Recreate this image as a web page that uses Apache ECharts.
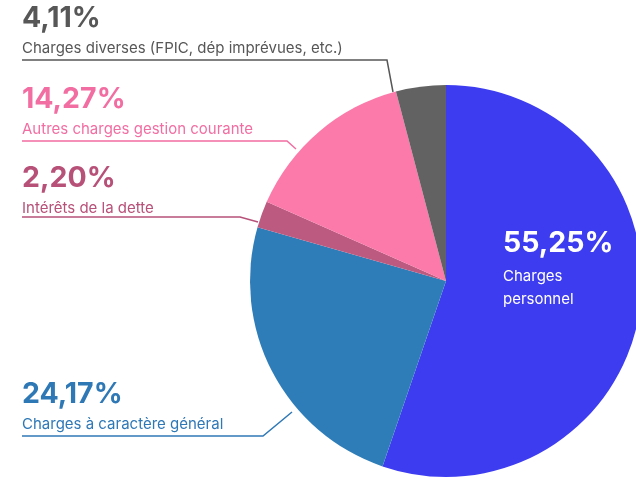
<!DOCTYPE html>
<html>
<head>
<meta charset="utf-8">
<script src="https://cdn.jsdelivr.net/npm/echarts@6/dist/echarts.min.js"></script>
<style>
  html, body { margin: 0; padding: 0; background: #fff; }
  #pieChart { width: 636px; height: 482px; }
</style>
</head>
<body>
<div id="pieChart"></div>
<script>
// répartition des dépenses de fonctionnement (%)
const names = [
  'Charges\npersonnel',
  'Charges à caractère général',
  'Intérêts de la dette',
  'Autres charges gestion courante',
  'Charges diverses (FPIC, dép imprévues, etc.)'
]
const values = [55.25, 24.17, 2.20, 14.27, 4.11]
const sliceColors = ['#3d3cf0', '#2e7db8', '#bd5a80', '#fb7aa9', '#626262']
const textColors = ['#ffffff', '#2f78b6', '#b85178', '#f26ea2', '#575757']

// placement des étiquettes + traits (x, y du bloc texte, points du trait)
const labelPos = [
  { x: 503, y: 222, line: null },
  { x: 22, y: 373, line: [[292, 412], [263, 436], [22, 436]] },
  { x: 22, y: 157, line: [[258, 222], [240, 217], [22, 217]] },
  { x: 22, y: 78, line: [[296, 149], [287, 141], [22, 141]] },
  { x: 22, y: -3, line: [[393, 92], [387, 60], [22, 60]] }
]

const chart = echarts.init(document.getElementById('pieChart'))

const fmt = v => v.toFixed(2).replace('.', ',') + '%'

const data = names.map((n, i) => {
  const inside = i === 0
  const tag = inside ? 'w' : 'n'
  const nameTxt = n.split('\n').map(s => '{' + tag + '|' + s + '}').join('\n')
  return {
    name: n,
    value: values[i],
    itemStyle: { color: sliceColors[i] },
    label: {
      formatter: '{p|' + fmt(values[i]) + '}\n' + nameTxt,
      color: textColors[i],
      rich: {
        p: { fontSize: 28.5, fontWeight: 'bold', lineHeight: 43, color: textColors[i], fontFamily: 'Inter' },
        n: { fontSize: 15, lineHeight: 17, color: textColors[i], fontFamily: 'Inter' },
        w: { fontSize: 15, lineHeight: 23, color: textColors[i], fontFamily: 'Inter' }
      }
    },
    labelLine: {
      show: !inside,
      lineStyle: { color: textColors[i], width: 1.5 }
    }
  }
})

chart.setOption({
  animation: false,
  series: [
    {
      type: 'pie',
      center: [446, 281],
      radius: 196,
      startAngle: 90,
      clockwise: true,
      avoidLabelOverlap: false,
      label: { show: true, position: 'outside' },
      labelLine: { show: true, length: 10, length2: 10, smooth: false },
      labelLayout: function (params) {
        const L = labelPos[params.dataIndex]
        const out = { x: L.x, y: L.y, align: 'left', verticalAlign: 'top' }
        if (L.line) out.labelLinePoints = L.line
        return out
      },
      data: data
    }
  ]
})
</script>
</body>
</html>
